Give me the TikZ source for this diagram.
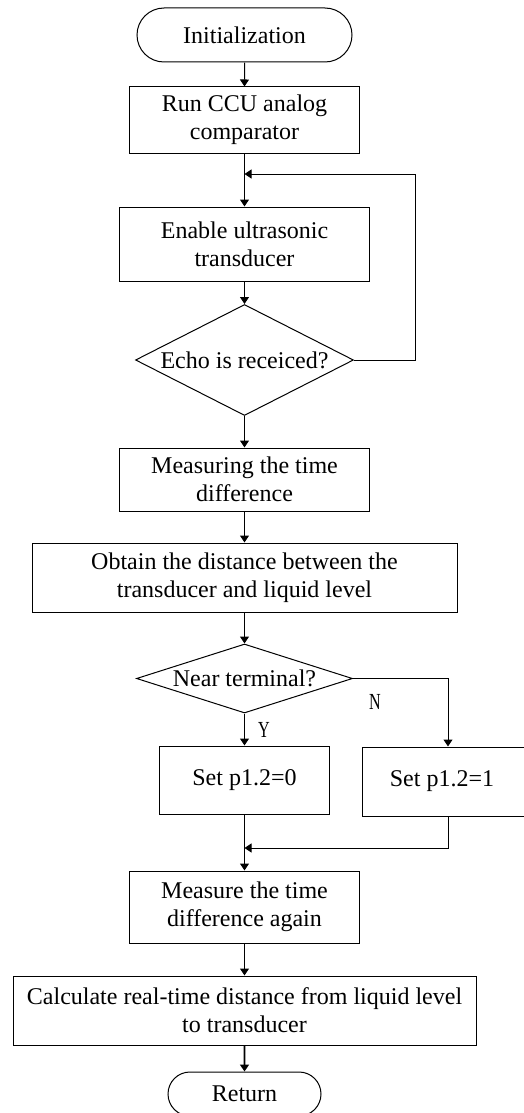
\documentclass[tikz,border=0pt]{standalone}
\usepackage{fontspec}
\setmainfont{Liberation Serif}
\usetikzlibrary{shapes.geometric,shapes.misc,arrows.meta}
\begin{document}
\begin{tikzpicture}[x=1pt,y=-1pt,
  base/.style={draw,line width=1pt,inner sep=0pt,align=center,font=\fontsize{24}{28}\selectfont},
  proc/.style={base,rectangle},
  term/.style={base,rounded rectangle},
  dec/.style={base,diamond},
  arr/.style={line width=1pt,-{Triangle[width=9pt,length=7pt]}},
  ln/.style={line width=1pt},
  lab/.style={inner sep=0pt,font=\fontsize{23}{26}\selectfont}]
\useasboundingbox (0,0) rectangle (523,1113);
\node[term,minimum width=215pt,minimum height=54pt] (init) at (244.5,35) {Initialization};
\node[proc,minimum width=230pt,minimum height=66pt] (run) at (244.5,120) {Run CCU analog\\comparator};
\node[proc,minimum width=250pt,minimum height=74pt] (enable) at (244.5,244) {Enable ultrasonic\\transducer};
\node[dec,minimum width=218pt,minimum height=111pt] (echo) at (244.5,360) {\makebox[0pt]{Echo is receiced?}};
\node[proc,minimum width=250pt,minimum height=63pt] (meas) at (244.5,479.5) {Measuring the time\\difference};
\node[proc,minimum width=425pt,minimum height=69pt] (obtain) at (244.5,577.5) {Obtain the distance between the\\transducer and liquid level};
\node[dec,minimum width=216pt,minimum height=69pt] (near) at (244.5,678.5) {\makebox[0pt]{Near terminal?}};
\node[proc,minimum width=170pt,minimum height=68pt] (set0) at (244.5,780) {Set p1.2=0};
\node[proc,minimum width=172pt,minimum height=69pt] (set1) at (448,781.5) {\hspace*{-12pt}Set p1.2=1};
\node[proc,minimum width=230pt,minimum height=72pt] (again) at (244.5,907) {Measure the time\\difference again};
\node[proc,minimum width=463pt,minimum height=69pt] (calc) at (244.5,1010.5) {Calculate real-time distance from liquid level\\to transducer};
\node[term,minimum width=153pt,minimum height=44pt] (ret) at (244.5,1094) {Return};
\coordinate (loopin) at (244.5,174);
\coordinate (fb) at (415,174);
\coordinate (mg) at (244.5,848);
\node[lab] (ylab) at (264,730) {\scalebox{0.7}[1]{Y}};
\node[lab] (nlab) at (375,702) {\scalebox{0.7}[1]{N}};
\draw[arr] (init) -- (run);
\draw[arr] (run) -- (enable);
\draw[arr] (enable) -- (echo);
\draw[arr] (echo.east) -| (fb) -- (loopin);
\draw[arr] (echo) -- (meas);
\draw[arr] (meas) -- (obtain);
\draw[arr] (obtain) -- (near);
\draw[arr] (near) -- (set0);
\draw[arr] (near.east) -| (set1.north);
\draw[arr] (set0) -- (again);
\draw[arr] (set1.south) |- (mg);
\draw[arr] (again) -- (calc);
\draw[arr,line width=1.6pt] (calc) -- (ret);
\end{tikzpicture}
\end{document}
